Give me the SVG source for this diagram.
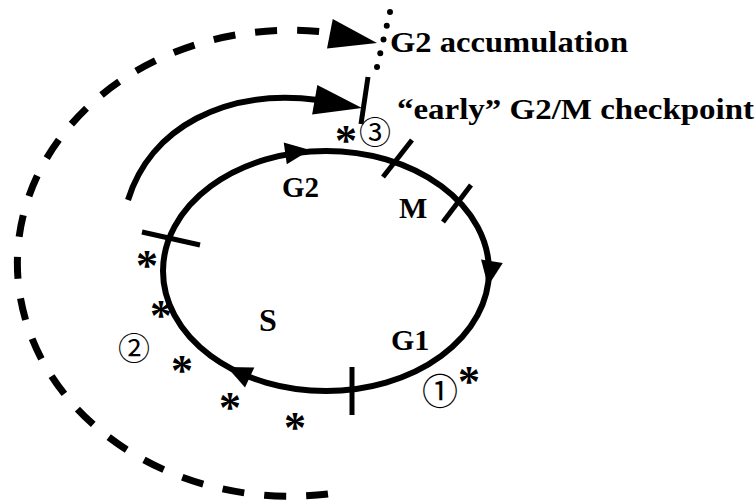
<svg xmlns="http://www.w3.org/2000/svg" width="756" height="501" viewBox="0 0 756 501">
<style>
.lbl{font-family:"Liberation Serif","Times New Roman",serif;font-weight:bold;fill:#000}
.ast{font-family:"Liberation Serif","Times New Roman",serif;font-weight:bold;font-size:44px;fill:#000;text-anchor:middle}
.num{font-family:"Noto Sans CJK JP","DejaVu Sans",sans-serif;fill:#000;text-anchor:middle;dominant-baseline:central}
.cyc{fill:none;stroke:#000;stroke-width:6}
.tick{stroke:#000;stroke-width:5;fill:none}
.conn{fill:none;stroke:#000;stroke-width:6}
.dash{fill:none;stroke:#000;stroke-width:7;stroke-dasharray:22 20}
.dot{fill:none;stroke:#000;stroke-width:6;stroke-linecap:round;stroke-dasharray:0 14.1}
.head{fill:#000}
</style>
<defs>
<path id="ahS" d="M0,0 L-25,-11 L-25,11 Z"/>
<path id="ahL" d="M0,0 L-48,-15 L-48,15 Z"/>
</defs>
<rect width="756" height="501" fill="#fff"/>

<g id="cell-cycle">
<ellipse class="cyc" cx="326" cy="271" rx="163" ry="120"/>
<use href="#ahS" class="head" transform="translate(310,150) rotate(-8)"/>
<use href="#ahS" class="head" transform="translate(488,286) rotate(99)"/>
<use href="#ahS" class="head" transform="translate(227,367) rotate(205)"/>
<line class="tick" x1="142" y1="232" x2="200" y2="245"/>
<line class="tick" x1="412" y1="140" x2="383" y2="177"/>
<line class="tick" x1="471" y1="185" x2="443" y2="222"/>
<line class="tick" x1="352" y1="367" x2="352" y2="415"/>
</g>

<g id="phase-labels">
<text class="lbl" x="282" y="197" font-size="29">G2</text>
<text class="lbl" x="399" y="218" font-size="30">M</text>
<text class="lbl" x="259" y="331" font-size="32">S</text>
<text class="lbl" x="391" y="350" font-size="30">G1</text>
</g>

<g id="connectors">
<path class="dash" d="M328,494 A273,233 0 1 1 336,33.5"/>
<use href="#ahL" class="head" transform="translate(377,43) rotate(11)"/>
<path class="conn" d="M128,200 C150,128 225,88 318,100"/>
<use href="#ahL" class="head" transform="translate(362,108) rotate(10)"/>
<line class="dot" x1="390" y1="12" x2="377" y2="67"/>
<line class="tick" x1="368" y1="77" x2="361" y2="124"/>
</g>

<g id="g2-accumulation">
<text class="lbl" x="390" y="52" font-size="30" textLength="238" lengthAdjust="spacingAndGlyphs">G2 accumulation</text>
</g>
<g id="early-checkpoint">
<text class="lbl" x="397" y="119" font-size="30" textLength="357" lengthAdjust="spacingAndGlyphs">“early” G2/M checkpoint</text>
</g>

<g id="markers">
<text class="num" x="375" y="130" font-size="32">③</text>
<text class="num" x="134" y="346" font-size="32">②</text>
<text class="num" x="440" y="389" font-size="36">①</text>
<text class="ast" x="346" y="155">*</text>
<text class="ast" x="469" y="396">*</text>
<text class="ast" x="147" y="280">*</text>
<text class="ast" x="161" y="330" font-size="40">*</text>
<text class="ast" x="182" y="385">*</text>
<text class="ast" x="230" y="422">*</text>
<text class="ast" x="295" y="442">*</text>
</g>
</svg>
